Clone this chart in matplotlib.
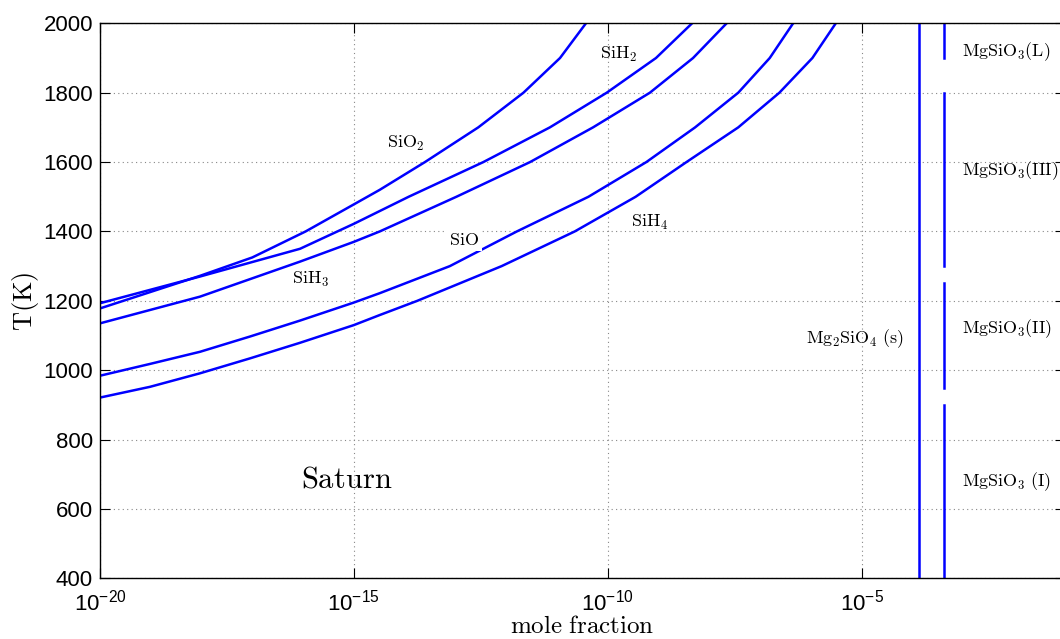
import matplotlib
matplotlib.use("Agg")
import matplotlib.pyplot as plt
from matplotlib.ticker import NullLocator
import numpy as np

# Condensation curves: log10 of mole fraction and temperature (K)
logx_sio2 = [-20, -18.03, -17.0, -15.95, -15.0, -14.49, -13.60, -12.55, -11.66, -10.94, -10.43]
T_sio2 = [1178, 1272, 1325, 1400, 1478, 1520, 1600, 1700, 1800, 1900, 2000]

logx_sih2 = [-20, -18.03, -16.06, -15.0, -13.92, -12.45, -11.14, -10.02, -9.05, -8.34]
T_sih2 = [1193, 1270, 1350, 1422, 1500, 1600, 1700, 1800, 1900, 2000]

logx_sih3 = [-20, -18.03, -16.06, -15.0, -14.49, -12.98, -11.53, -10.29, -9.17, -8.32, -7.66]
T_sih3 = [1135, 1212, 1313, 1370, 1400, 1500, 1600, 1700, 1800, 1900, 2000]

logx_sio = [-20, -19.015, -18.03, -17.046, -16.06, -15.0, -14.49, -13.11, -11.79,
            -10.38, -9.24, -8.28, -7.43, -6.81, -6.35]
T_sio = [984, 1018, 1053, 1097, 1143, 1195, 1222, 1300, 1400,
         1500, 1600, 1700, 1800, 1900, 2000]

logx_sih4 = [-20, -19.015, -18.03, -17.046, -16.06, -15.0, -14.49, -13.75, -12.09,
             -10.65, -9.45, -8.45, -7.43, -6.62, -5.97, -5.51]
T_sih4 = [921, 952, 991, 1034, 1079, 1130, 1159, 1200, 1300,
          1400, 1500, 1600, 1700, 1800, 1900, 2000]

# Silicate condensates (mole fraction of the vertical lines)
x_mg2sio4 = 1.35e-4
x_mgsio3 = 4.2e-4
mgsio3_phases = [(400, 900), (950, 1250), (1300, 1800), (1900, 2000)]

plt.rcParams["font.family"] = "Liberation Sans"
plt.rcParams["mathtext.fontset"] = "custom"
plt.rcParams["mathtext.rm"] = "Liberation Sans"
plt.rcParams["mathtext.it"] = "Liberation Sans:italic"
plt.rcParams["mathtext.bf"] = "Liberation Sans:bold"

fig = plt.figure(figsize=(10.6, 6.39), dpi=100)
ax = fig.add_axes([0.0943, 0.0950, 0.9102, 0.8685])

blue = "#0000ff"
for lx, T in [(logx_sio2, T_sio2), (logx_sih2, T_sih2), (logx_sih3, T_sih3),
              (logx_sio, T_sio), (logx_sih4, T_sih4)]:
    ax.plot(10.0 ** np.array(lx), T, color=blue, lw=1.8)

ax.plot([x_mg2sio4, x_mg2sio4], [400, 2000], color=blue, lw=1.8)
for t0, t1 in mgsio3_phases:
    ax.plot([x_mgsio3, x_mgsio3], [t0, t1], color=blue, lw=1.8)

ax.set_xscale("log")
ax.set_xlim(1e-20, 1e-1)
ax.set_ylim(400, 2000)
ax.set_xticks([1e-20, 1e-15, 1e-10, 1e-5])
ax.xaxis.set_minor_locator(NullLocator())
ax.set_yticks(np.arange(400, 2001, 200))
ax.tick_params(direction="in", top=True, right=True, length=7, width=0.8,
               labelsize=16, pad=5)
ax.tick_params(axis="x", pad=8)
ax.grid(True, linestyle=(0, (1, 3)), color="#888888", lw=0.8)
for s in ax.spines.values():
    s.set_linewidth(1.0)

cm = dict(math_fontfamily="cm")
ax.set_xlabel(r"$\mathrm{mole\ fraction}$", fontsize=18, labelpad=-1, **cm)
ax.set_ylabel(r"$\mathrm{T(K)}$", fontsize=19, labelpad=2, **cm)

lab = dict(fontsize=13, ha="center", va="center", **cm)
ax.text(1.07e-14, 1655, r"$\mathrm{SiO_2}$", **lab)
ax.text(1.6e-10, 1911, r"$\mathrm{SiH_2}$", **lab)
ax.text(1.4e-16, 1263, r"$\mathrm{SiH_3}$", **lab)
ax.text(1.5e-13, 1375, r"$\mathrm{SiO}$",
        bbox=dict(facecolor="white", edgecolor="none", pad=1.5), **lab)
ax.text(6.8e-10, 1427, r"$\mathrm{SiH_4}$", **lab)
ax.text(7.2e-16, 686, r"$\mathrm{Saturn}$", fontsize=22, ha="center", va="center", **cm)
ax.text(7.4e-6, 1090, r"$\mathrm{Mg_2SiO_4\ (s)}$", **lab)

left = dict(fontsize=13, ha="left", va="center", **cm)
ax.text(9.4e-4, 1918, r"$\mathrm{MgSiO_3(L)}$", **left)
ax.text(9.4e-4, 1574, r"$\mathrm{MgSiO_3(III)}$", **left)
ax.text(9.4e-4, 1119, r"$\mathrm{MgSiO_3(II)}$", **left)
ax.text(9.4e-4, 678, r"$\mathrm{MgSiO_3\ (I)}$", **left)

fig.savefig("out.png", dpi=100)
